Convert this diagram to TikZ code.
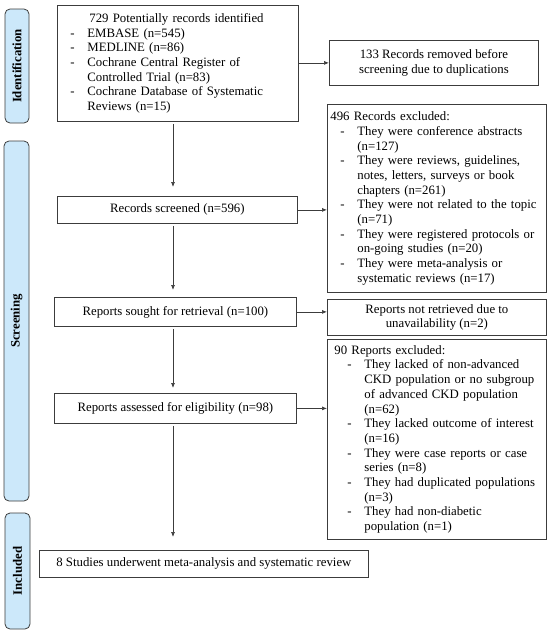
\documentclass[tikz,border=0pt]{standalone}
\usepackage{fontspec}
\setmainfont{Liberation Serif}
\usetikzlibrary{arrows.meta}
\definecolor{labblue}{RGB}{204,232,250}
\definecolor{edge}{RGB}{60,60,60}
\newcommand{\dashitem}{\makebox[17pt][l]{-}}
\newcommand{\contitem}{\hspace*{17pt}}
\begin{document}
\begin{tikzpicture}[x=1pt,y=-1pt,
  box/.style={draw=edge, line width=0.8pt, rectangle, inner sep=0pt, anchor=north west,
    font=\fontsize{12.8}{14.7}\selectfont},
  cbox/.style={box, align=center},
  lab/.style={draw=edge, line width=0.8pt, rounded corners=5pt, fill=labblue, anchor=center,
    inner sep=0pt, rotate=90, font=\fontsize{12.8}{14}\selectfont\bfseries},
  arr/.style={draw=edge, line width=0.7pt, -{Latex[length=5pt,width=4pt]}},
]
\useasboundingbox (0,0) rectangle (550,633);

% phase labels
\node[lab, minimum width=114pt, minimum height=24pt] (l1) at (17,66) {Identification};
\node[lab, minimum width=360pt, minimum height=25pt] (l2) at (16.5,321) {Screening};
\node[lab, minimum width=116pt, minimum height=25pt] (l3) at (17.5,571) {Included};

% main column
\node[box, minimum width=241pt, minimum height=116pt, inner xsep=13pt, text width=215pt, align=left] (b1) at (57,5)
 {\hspace*{19pt}729 Potentially records identified\\
  \dashitem EMBASE (n=545)\\
  \dashitem MEDLINE (n=86)\\
  \dashitem Cochrane Central Register of\\
  \contitem Controlled Trial (n=83)\\
  \dashitem Cochrane Database of Systematic\\
  \contitem Reviews (n=15)};
\node[cbox, minimum width=240pt, minimum height=27pt] (brs) at (57,196) {Records screened (n=596)};
\node[cbox, minimum width=242pt, minimum height=29pt] (bsought) at (54,297) {Reports sought for retrieval (n=100)};
\node[cbox, minimum width=242pt, minimum height=30pt] (bassess) at (54,393) {Reports assessed for eligibility (n=98)};
\node[cbox, minimum width=329pt, minimum height=27pt] (bstudies) at (39,550) {8 Studies underwent meta-analysis and systematic review};

% right column
\node[cbox, minimum width=209pt, minimum height=45pt] (b133) at (329,40)
 {133 Records removed before\\screening due to duplications};
\node[box, minimum width=219pt, minimum height=188pt, inner xsep=3pt, text width=213pt, align=left] (b496) at (327,104)
 {496 Records excluded:\\
  \hspace*{10pt}\dashitem They were conference abstracts\\
  \hspace*{10pt}\contitem (n=127)\\
  \hspace*{10pt}\dashitem They were reviews, guidelines,\\
  \hspace*{10pt}\contitem notes, letters, surveys or book\\
  \hspace*{10pt}\contitem chapters (n=261)\\
  \hspace*{10pt}\dashitem They were not related to the topic\\
  \hspace*{10pt}\contitem (n=71)\\
  \hspace*{10pt}\dashitem They were registered protocols or\\
  \hspace*{10pt}\contitem on-going studies (n=20)\\
  \hspace*{10pt}\dashitem They were meta-analysis or\\
  \hspace*{10pt}\contitem systematic reviews (n=17)};
\node[cbox, minimum width=219pt, minimum height=36pt] (bnot) at (327,299)
 {Reports not retrieved due to\\unavailability (n=2)};
\node[box, minimum width=219pt, minimum height=200pt, inner xsep=7pt, text width=205pt, align=left] (b90) at (327,339)
 {90 Reports excluded:\\
  \hspace*{13pt}\dashitem They lacked of non-advanced\\
  \hspace*{13pt}\contitem CKD population or no subgroup\\
  \hspace*{13pt}\contitem of advanced CKD population\\
  \hspace*{13pt}\contitem (n=62)\\
  \hspace*{13pt}\dashitem They lacked outcome of interest\\
  \hspace*{13pt}\contitem (n=16)\\
  \hspace*{13pt}\dashitem They were case reports or case\\
  \hspace*{13pt}\contitem series (n=8)\\
  \hspace*{13pt}\dashitem They had duplicated populations\\
  \hspace*{13pt}\contitem (n=3)\\
  \hspace*{13pt}\dashitem They had non-diabetic\\
  \hspace*{13pt}\contitem population (n=1)};

% connectors
\coordinate (ax) at (173,0);
\draw[arr, shorten <=2pt, shorten >=9pt] (b1.south -| ax) -- (brs.north -| ax);
\draw[arr, shorten <=2pt, shorten >=7pt] (brs.south -| ax) -- (bsought.north -| ax);
\draw[arr, shorten <=2pt, shorten >=5pt] (bsought.south -| ax) -- (bassess.north -| ax);
\draw[arr, shorten <=2pt, shorten >=13pt] (bassess.south -| ax) -- (bstudies.north -| ax);
\draw[arr] (b133.west -| b1.east) -- (b133.west);
\draw[arr] (brs.east) -- (brs.east -| b496.west);
\draw[arr] (bsought.east) -- (bsought.east -| bnot.west);
\draw[arr] (bassess.east) -- (bassess.east -| b90.west);
\end{tikzpicture}
\end{document}
